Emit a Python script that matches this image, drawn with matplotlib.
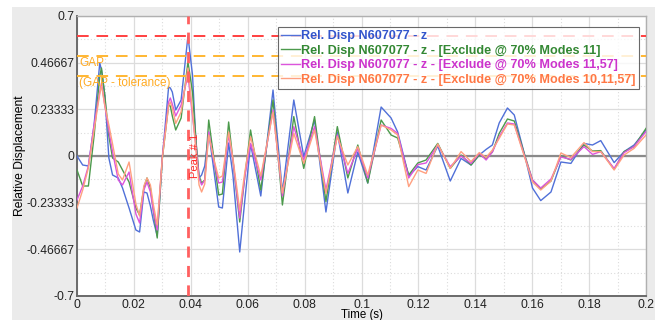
import matplotlib
matplotlib.use("Agg")
import matplotlib.pyplot as plt
from matplotlib.patches import Rectangle
from matplotlib.ticker import MultipleLocator, FixedLocator

plt.rcParams["font.family"] = ["Liberation Sans", "DejaVu Sans"]

# ---- data ----
time = [0.0, 0.002, 0.004, 0.006, 0.0080, 0.0086, 0.0098, 0.0112, 0.0125, 0.0145,
        0.016, 0.0183, 0.0207, 0.022, 0.0235, 0.0246, 0.0258, 0.0268, 0.0282, 0.030,
        0.0322, 0.0328, 0.0335, 0.0347, 0.0366, 0.039, 0.0406, 0.0418, 0.0429, 0.0438,
        0.0449, 0.0463, 0.048, 0.0498, 0.0511, 0.0533, 0.0548, 0.0572, 0.059, 0.061,
        0.0646, 0.0689, 0.0722, 0.0762, 0.0797, 0.0835, 0.0875, 0.0915, 0.0952, 0.0987,
        0.1022, 0.1069, 0.1104, 0.1127, 0.1166, 0.1198, 0.1227, 0.1268, 0.1312, 0.135,
        0.1385, 0.1414, 0.1438, 0.146, 0.1484, 0.1513, 0.1537, 0.1572, 0.1601, 0.163,
        0.1666, 0.1701, 0.1736, 0.1782, 0.1812, 0.1841, 0.1888, 0.1923, 0.1958, 0.2]

disp_all = [0.0, -0.045, -0.05, 0.155, 0.465, 0.43, 0.30, -0.01, -0.095, -0.11,
            -0.16, -0.26, -0.37, -0.38, -0.18, -0.185, -0.25, -0.32, -0.40, -0.01,
            0.345, 0.34, 0.32, 0.23, 0.28, 0.60, 0.405, 0.07, -0.11, -0.095,
            -0.05, 0.12, -0.06, -0.255, -0.26, 0.065, -0.095, -0.48, -0.22, 0.06,
            -0.20, 0.33, -0.18, 0.28, -0.003, 0.18, -0.28, 0.12, -0.185, 0.02,
            -0.135, 0.245, 0.19, 0.12, -0.10, -0.053, -0.07, 0.05, -0.125, -0.012,
            -0.045, 0.005, 0.033, 0.055, 0.165, 0.24, 0.205, 0.013, -0.16, -0.223,
            -0.18, -0.03, -0.037, 0.063, 0.055, 0.077, -0.033, 0.022, 0.055, 0.13]

disp_ex11 = [-0.07, -0.15, -0.15, 0.10, 0.40, 0.44, 0.30, 0.10, -0.01, -0.03,
             -0.07, -0.13, -0.26, -0.295, -0.16, -0.11, -0.16, -0.27, -0.41, -0.01,
             0.255, 0.25, 0.20, 0.13, 0.19, 0.47, 0.32, 0.08, -0.10, -0.135,
             -0.12, 0.18, 0.0, -0.195, -0.19, 0.17, -0.02, -0.33, -0.10, 0.13,
             -0.17, 0.28, -0.245, 0.197, -0.062, 0.197, -0.228, 0.147, -0.11, 0.055,
             -0.135, 0.18, 0.105, 0.09, -0.095, -0.035, -0.02, 0.063, -0.062, 0.005,
             -0.045, 0.005, -0.012, 0.02, 0.113, 0.185, 0.175, 0.013, -0.12, -0.165,
             -0.125, 0.0, -0.02, 0.055, 0.025, 0.027, -0.067, 0.022, 0.047, 0.138]

disp_ex11_57 = [-0.22, -0.15, -0.05, 0.155, 0.32, 0.365, 0.25, 0.125, 0.02, -0.12,
                -0.145, -0.08, -0.29, -0.335, -0.17, -0.13, -0.18, -0.27, -0.37, 0.0,
                0.27, 0.29, 0.26, 0.20, 0.255, 0.405, 0.20, 0.05, -0.11, -0.145,
                -0.12, 0.12, -0.02, -0.135, -0.13, 0.105, -0.02, -0.31, -0.10, 0.063,
                -0.12, 0.23, -0.20, 0.147, -0.02, 0.147, -0.17, 0.105, -0.087, 0.038,
                -0.11, 0.155, 0.138, 0.113, -0.11, -0.043, -0.035, 0.055, -0.053, 0.0,
                -0.037, 0.013, -0.02, 0.02, 0.097, 0.165, 0.16, 0.005, -0.12, -0.16,
                -0.115, -0.005, -0.017, 0.047, 0.008, 0.022, -0.062, 0.017, 0.047, 0.122]

disp_ex10_11_57 = [-0.26, -0.17, -0.06, 0.13, 0.31, 0.355, 0.25, 0.155, 0.06, -0.09,
                   -0.12, -0.03, -0.24, -0.30, -0.15, -0.11, -0.145, -0.24, -0.345, -0.01,
                   0.25, 0.27, 0.24, 0.163, 0.22, 0.44, 0.22, 0.03, -0.145, -0.18,
                   -0.14, 0.105, -0.01, -0.11, -0.10, 0.12, -0.01, -0.27, -0.08, 0.097,
                   -0.10, 0.22, -0.185, 0.113, -0.037, 0.13, -0.187, 0.097, -0.045, 0.047,
                   -0.095, 0.155, 0.13, 0.105, -0.153, -0.07, -0.087, 0.06, -0.062, 0.022,
                   -0.028, 0.017, -0.007, 0.03, 0.088, 0.16, 0.155, 0.0, -0.13, -0.17,
                   -0.125, 0.015, -0.008, 0.067, 0.022, 0.022, -0.07, 0.005, 0.038, 0.105]

series_labels = ["Rel. Disp N607077 - z",
                 "Rel. Disp N607077 - z - [Exclude @ 70% Modes 11]",
                 "Rel. Disp N607077 - z - [Exclude @ 70% Modes 11,57]",
                 "Rel. Disp N607077 - z - [Exclude @ 70% Modes 10,11,57]"]
line_colors = ["#5070d8", "#4c9a4c", "#dc55dc", "#ffa080"]
text_colors = ["#3355cc", "#338833", "#cc33cc", "#ff7744"]

peak_time = 0.039
peak_level = 0.60
gap_level = 0.50
gap_tol_level = 0.40

yticks = [-0.7, -0.46667, -0.23333, 0, 0.23333, 0.46667, 0.7]
ytick_labels = ["-0.7", "-0.46667", "-0.23333", "0", "0.23333", "0.46667", "0.7"]
xticks = [0, 0.02, 0.04, 0.06, 0.08, 0.1, 0.12, 0.14, 0.16, 0.18, 0.2]
xtick_labels = ["0", "0.02", "0.04", "0.06", "0.08", "0.1", "0.12", "0.14", "0.16", "0.18", "0.2"]

fig = plt.figure(figsize=(6.68, 3.2), dpi=100)
fig.patch.set_facecolor("white")
fig.patches.append(Rectangle((12 / 668, 0), (655 - 12) / 668, (320 - 7) / 320,
                             transform=fig.transFigure, facecolor="#ebebeb",
                             edgecolor="none", zorder=-10))

ax = fig.add_axes([77 / 668, 24 / 320, (646 - 77) / 668, 280 / 320])
ax.set_zorder(1)
ax.set_facecolor("white")

for vals, lab, col in zip([disp_all, disp_ex11, disp_ex11_57, disp_ex10_11_57],
                          series_labels, line_colors):
    ax.plot(time, vals, color=col, lw=1.0, label=lab, zorder=3)

ax.axhline(0, color="#8a8a8a", lw=1.6, zorder=2)
ax.axhline(peak_level, color="#ff4040", lw=1.4, dashes=(6, 4), zorder=4)
ax.axhline(gap_level, color="#ffb732", lw=1.4, dashes=(6, 4), zorder=4)
ax.axhline(gap_tol_level, color="#ffb732", lw=1.4, dashes=(6, 4), zorder=4)
ax.axvline(peak_time, color="#ff6060", lw=2.0, dashes=(4, 3), zorder=4)

ax.text(0.0007, 0.465, "GAP", color="#ffaa22", fontsize=8.5, va="center", ha="left", zorder=5)
ax.text(0.0007, 0.365, "(GAP - tolerance)", color="#ffaa22", fontsize=8.5,
        va="center", ha="left", zorder=5)
ax.text(0.0416, 0.0, "Peak # 1", color="#ff2a2a", fontsize=8, rotation=90,
        va="center", ha="center", zorder=5)

ax.set_xlim(0, 0.2)
ax.set_ylim(-0.7, 0.7)
ax.set_xticks(xticks)
ax.set_xticklabels(xtick_labels)
ax.set_yticks(yticks)
ax.set_yticklabels(ytick_labels)
ax.xaxis.set_minor_locator(MultipleLocator(0.01))
ax.yaxis.set_minor_locator(FixedLocator([-0.58333, -0.35, -0.11667, 0.11667, 0.35, 0.58333]))
ax.grid(True, which="major", color="#dcdcdc", lw=0.9)
ax.grid(True, which="minor", color="#dcdcdc", lw=0.8, ls=(0, (1, 2)))
ax.set_axisbelow(True)
ax.tick_params(which="both", length=0, labelsize=8.7, pad=2, colors="#222222")

for side in ["left", "bottom"]:
    ax.spines[side].set_color("#6a6a6a")
    ax.spines[side].set_linewidth(1.4)
for side in ["top", "right"]:
    ax.spines[side].set_color("#b0b0b0")
    ax.spines[side].set_linewidth(1.0)

ax.set_ylabel("Relative Displacement", fontsize=8.7)
ax.yaxis.set_label_coords(-0.09, 0.5)
ax.set_xlabel("Time (s)", fontsize=8.3, va="top")
ax.xaxis.set_label_coords(0.5, -0.048)

leg = ax.legend(loc="upper left", bbox_to_anchor=((278 - 77) / 569, (296 - 27) / 280),
                frameon=True, fancybox=False, fontsize=9.1, handlelength=1.5,
                handletextpad=0.1, borderpad=0.25, labelspacing=0.2, borderaxespad=0)
leg.get_frame().set_edgecolor("#444444")
leg.get_frame().set_linewidth(0.8)
leg.set_zorder(10)
for txt, col in zip(leg.get_texts(), text_colors):
    txt.set_color(col)
    txt.set_fontweight("bold")

fig.savefig("out.png", dpi=100)
